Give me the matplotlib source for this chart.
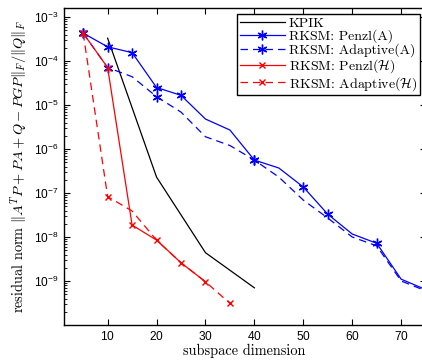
import matplotlib
matplotlib.use("Agg")
import matplotlib.pyplot as plt
from matplotlib.ticker import LogLocator, NullFormatter, FixedLocator

# ---- data ----
kpik_x = [10, 20, 30, 40]
kpik_y = [3.3e-4, 2.3e-7, 4.4e-9, 7.0e-10]

penzlA_x = [5, 10, 15, 20, 25, 30, 35, 40, 45, 50, 55, 60, 65, 70, 75]
penzlA_y = [4.3e-4, 2.1e-4, 1.55e-4, 2.5e-5, 1.66e-5, 4.8e-6, 2.7e-6, 5.6e-7,
            3.7e-7, 1.37e-7, 3.3e-8, 1.17e-8, 7.2e-9, 1.1e-9, 6.4e-10]
penzlA_marks = [0, 1, 2, 3, 4, 7, 9, 10, 12]

adaptA_x = [5, 10, 15, 20, 25, 30, 35, 40, 45, 50, 55, 60, 65, 70, 75]
adaptA_y = [4.3e-4, 7.1e-5, 4.4e-5, 1.55e-5, 6.9e-6, 1.9e-6, 1.2e-6, 5.6e-7,
            2.3e-7, 6.9e-8, 2.7e-8, 1.0e-8, 6.3e-9, 1.0e-9, 6.0e-10]
adaptA_marks = [0, 1, 3, 7]

penzlH_x = [5, 10, 15, 20, 25, 30]
penzlH_y = [4.3e-4, 7.1e-5, 1.87e-8, 8.5e-9, 2.6e-9, 9.6e-10]

adaptH_x = [5, 10, 15, 20, 25, 30, 35]
adaptH_y = [4.3e-4, 8.3e-8, 3.9e-8, 8.5e-9, 2.6e-9, 9.6e-10, 3.1e-10]
adaptH_marks = [0, 1, 6]

labels = ["KPIK", "RKSM: Penzl(A)", "RKSM: Adaptive(A)",
          r"RKSM: Penzl($\mathcal{H}$)", r"RKSM: Adaptive($\mathcal{H}$)"]
xticks = [10, 20, 30, 40, 50, 60, 70]

plt.rcParams["mathtext.fontset"] = "cm"
plt.rcParams["axes.formatter.use_mathtext"] = True

fig = plt.figure(figsize=(4.22, 3.6), dpi=100)
ax = fig.add_axes([63.6 / 422, 1 - 325 / 360, 362 / 422, 317 / 360])

dash = (0, (6, 4))
lw = 0.9
star = (6, 2, 0)
ax.plot(kpik_x, kpik_y, color="k", lw=lw, label=labels[0])
ax.plot(penzlA_x, penzlA_y, color="b", lw=lw, marker=star, ms=7, mew=1.0,
        markevery=penzlA_marks, label=labels[1])
ax.plot(adaptA_x, adaptA_y, color="b", lw=lw, ls=dash, marker=star, ms=7, mew=1.0,
        markevery=adaptA_marks, label=labels[2])
ax.plot(penzlH_x, penzlH_y, color="r", lw=lw, marker="x", ms=5, mew=1.0,
        label=labels[3])
ax.plot(adaptH_x, adaptH_y, color="r", lw=lw, ls=dash, marker="x", ms=5, mew=1.0,
        markevery=adaptH_marks, label=labels[4])

ax.set_yscale("log")
ax.set_xlim(1, 75)
ax.set_ylim(1e-10, 10 ** -2.795)
ax.xaxis.set_major_locator(FixedLocator(xticks))
ax.yaxis.set_major_locator(FixedLocator([1e-3, 1e-4, 1e-5, 1e-6, 1e-7, 1e-8, 1e-9]))
ax.yaxis.set_minor_locator(LogLocator(base=10, subs=range(2, 10), numticks=20))
ax.yaxis.set_minor_formatter(NullFormatter())
ax.tick_params(which="both", direction="in", top=True, right=True)
ax.tick_params(which="major", length=4, labelsize=8.6)
ax.tick_params(which="minor", length=2)
for lab in ax.get_xticklabels() + ax.get_yticklabels():
    lab.set_family("Liberation Sans")
for sp in ax.spines.values():
    sp.set_linewidth(1.0)

ax.set_xlabel("subspace dimension", family="cmr10", fontsize=10.3, labelpad=1)
ax.set_ylabel(r"residual norm $\|A^TP+PA+Q-PGP\|_F/\|Q\|_F$", family="cmr10",
              fontsize=10.3, labelpad=3)

leg = ax.legend(loc="upper right", bbox_to_anchor=(0.985, 0.981), borderaxespad=0,
                prop={"family": "cmr10", "size": 10}, fancybox=False,
                framealpha=1, edgecolor="k", handlelength=3.2, handletextpad=0.3,
                labelspacing=0.0, borderpad=0.2)
leg.get_frame().set_linewidth(1.0)

fig.savefig("out.png", dpi=100)
